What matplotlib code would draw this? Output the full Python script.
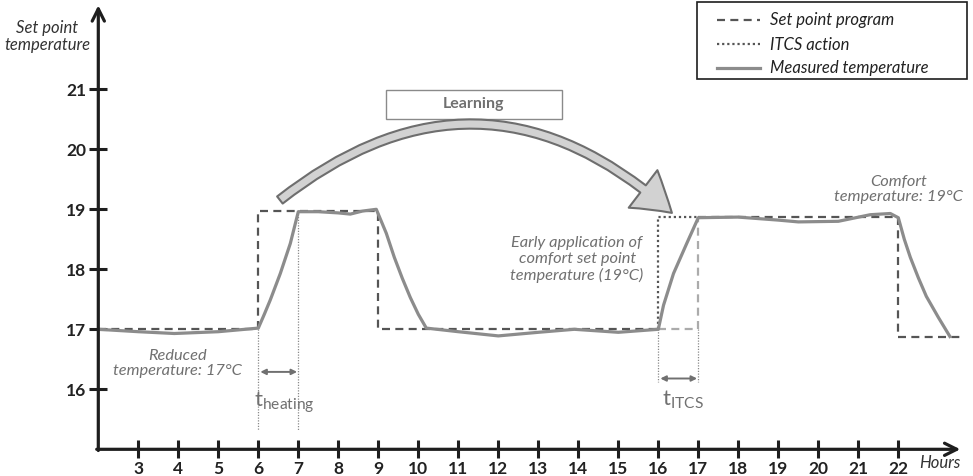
import matplotlib
matplotlib.use("Agg")
import matplotlib.pyplot as plt
from matplotlib.patches import FancyArrowPatch, Rectangle

plt.rcParams['font.family'] = ['Lato', 'DejaVu Sans']
plt.rcParams['mathtext.fontset'] = 'custom'
plt.rcParams['mathtext.rm'] = 'Lato'

# set point program (dark dashed part, light dashed part around the ITCS shift, second block)
sp_hours_1 = [2, 6, 6, 9, 9, 16]
sp_temps_1 = [17.0, 17.0, 18.97, 18.97, 17.0, 17.0]
sp_hours_light = [16, 17, 17]
sp_temps_light = [17.0, 17.0, 18.87]
sp_hours_2 = [17, 22, 22, 23.54]
sp_temps_2 = [18.87, 18.87, 16.88, 16.88]

# ITCS action (dotted)
itcs_hours = [16, 16, 17]
itcs_temps = [17.0, 18.88, 18.88]

# measured temperature
meas_hours = [2, 3, 3.9, 5, 6, 6.15, 6.3, 6.55, 6.8, 7, 7.5, 8, 8.3, 8.6, 8.95,
              9.2, 9.4, 9.6, 9.8, 10.0, 10.2, 11, 12, 13, 13.9, 15, 16,
              16.13, 16.38, 16.71, 17.0, 18, 19, 19.5, 20.5, 21.3, 21.8, 22.0,
              22.15, 22.3, 22.5, 22.7, 23.0, 23.29]
meas_temps = [17.0, 16.96, 16.93, 16.96, 17.02, 17.25, 17.49, 17.93, 18.43, 18.96, 18.96, 18.94, 18.92, 18.97, 19.0,
              18.6, 18.2, 17.85, 17.53, 17.25, 17.02, 16.96, 16.89, 16.95, 17.0, 16.95, 17.0,
              17.4, 17.93, 18.43, 18.86, 18.87, 18.82, 18.79, 18.8, 18.91, 18.93, 18.86,
              18.5, 18.2, 17.86, 17.55, 17.2, 16.88]

x_ticks = list(range(3, 23))
y_ticks = [16, 17, 18, 19, 20, 21]

fig = plt.figure(figsize=(9.73, 4.76), dpi=100)
ax = fig.add_axes([0.10103, 0.05609, 0.88798, 0.93277])
ax.set_xlim(2, 23.6)
ax.set_ylim(15, 22.4)
for s in ax.spines.values():
    s.set_visible(False)

# axes drawn as arrows
axis_col = '#1e1e1e'
ax.annotate('', xy=(23.55, 15), xytext=(1.96, 15), annotation_clip=False,
            arrowprops=dict(arrowstyle='->', lw=2.3, color=axis_col, mutation_scale=22,
                            shrinkA=0, shrinkB=0))
ax.annotate('', xy=(2, 22.4), xytext=(2, 14.98), annotation_clip=False,
            arrowprops=dict(arrowstyle='->', lw=2.3, color=axis_col, mutation_scale=22,
                            shrinkA=0, shrinkB=0))

ax.set_xticks(x_ticks)
ax.set_yticks(y_ticks)
ax.tick_params(direction='inout', length=13, width=2.2, color=axis_col,
               labelsize=12.5, labelcolor='#222222', pad=2)
for lab in ax.get_xticklabels() + ax.get_yticklabels():
    lab.set_fontweight('bold')

# guide lines
guide = dict(color='#8a8a8a', lw=0.9, ls=(0, (1, 1.2)))
ax.plot([6, 6], [17.0, 15.32], **guide)
ax.plot([7, 7], [18.97, 15.32], **guide)
ax.plot([16, 16], [17.0, 16.12], **guide)
ax.plot([17, 17], [17.0, 16.12], **guide)

# curves
dash = (0, (3.6, 2.4))
l_sp, = ax.plot(sp_hours_1, sp_temps_1, color='#555555', lw=1.6, ls=dash,
                label='Set point program')
ax.plot(sp_hours_light, sp_temps_light, color='#ababab', lw=1.6, ls=dash)
ax.plot(sp_hours_2, sp_temps_2, color='#555555', lw=1.6, ls=dash)
l_itcs, = ax.plot(itcs_hours, itcs_temps, color='#555555', lw=1.6, ls=(0, (1, 1.3)),
                  label='ITCS action')
l_meas, = ax.plot(meas_hours, meas_temps, color='#8c8c8c', lw=2.3,
                  solid_joinstyle='round', label='Measured temperature')

# duration arrows
darr = dict(arrowstyle='<|-|>', color='#707070', lw=1.4, mutation_scale=8,
            shrinkA=0, shrinkB=0)
ax.annotate('', xy=(6.05, 16.29), xytext=(6.97, 16.29), arrowprops=darr)
ax.annotate('', xy=(16.05, 16.18), xytext=(16.97, 16.18), arrowprops=darr)
ax.text(5.88, 15.72, r'$\mathrm{t}_{\mathrm{heating}}$', fontsize=16, color='#707070',
        ha='left', va='baseline')
ax.text(16.1, 15.74, r'$\mathrm{t}_{\mathrm{ITCS}}$', fontsize=16, color='#707070',
        ha='left', va='baseline')

# annotations
note = dict(fontsize=11.8, style='italic', color='#707070', ha='center', va='center',
            linespacing=1.15)
ax.text(3.99, 16.43, 'Reduced\ntemperature: 17°C', **note)
ax.text(13.97, 18.16, 'Early application of\ncomfort set point\ntemperature (19°C)', **note)
ax.text(22.0, 19.33, 'Comfort\ntemperature: 19°C', **note)
ax.text(0.73, 21.88, 'Set point\ntemperature', fontsize=12, style='italic',
        color='#333333', ha='center', va='center', linespacing=1.15)
ax.text(23.04, 14.77, 'Hours', fontsize=12, style='italic', color='#333333',
        ha='center', va='center')

# learning box + curved arrow
ax.add_patch(Rectangle((9.19, 20.505), 4.41, 0.483, facecolor='white',
                       edgecolor='#8a8a8a', lw=1.0, clip_on=False))
ax.text(11.39, 20.747, 'Learning', fontsize=11.5, fontweight='bold', color='#707070',
        ha='center', va='center')
learn = FancyArrowPatch((6.54, 19.155), (16.34, 18.94),
                        connectionstyle='arc3,rad=-0.42',
                        arrowstyle='simple,head_length=2.7,head_width=3.4,tail_width=0.65',
                        mutation_scale=10, facecolor='#d2d2d2', edgecolor='#6e6e6e',
                        lw=1.5, shrinkA=0, shrinkB=0)
ax.add_patch(learn)

# legend frame drawn separately so the padding can match the reference box
ax.add_patch(Rectangle((697.3 / 973, 1 - 78.7 / 476), 270 / 973, 77 / 476,
                       transform=fig.transFigure, facecolor='white', clip_on=False,
                       edgecolor='#1e1e1e', lw=1.2, zorder=4))
leg = ax.legend(handles=[l_sp, l_itcs, l_meas], loc='upper left',
                bbox_to_anchor=(716.7 / 973, 1 - 12.5 / 476),
                bbox_transform=fig.transFigure, borderaxespad=0, borderpad=0,
                frameon=False, prop=dict(family='Lato', style='italic', size=12),
                handlelength=2.6, handletextpad=0.6, labelspacing=0.48)
leg.set_zorder(5)
for t in leg.get_texts():
    t.set_color('#222222')

fig.savefig('out.png', dpi=100)
